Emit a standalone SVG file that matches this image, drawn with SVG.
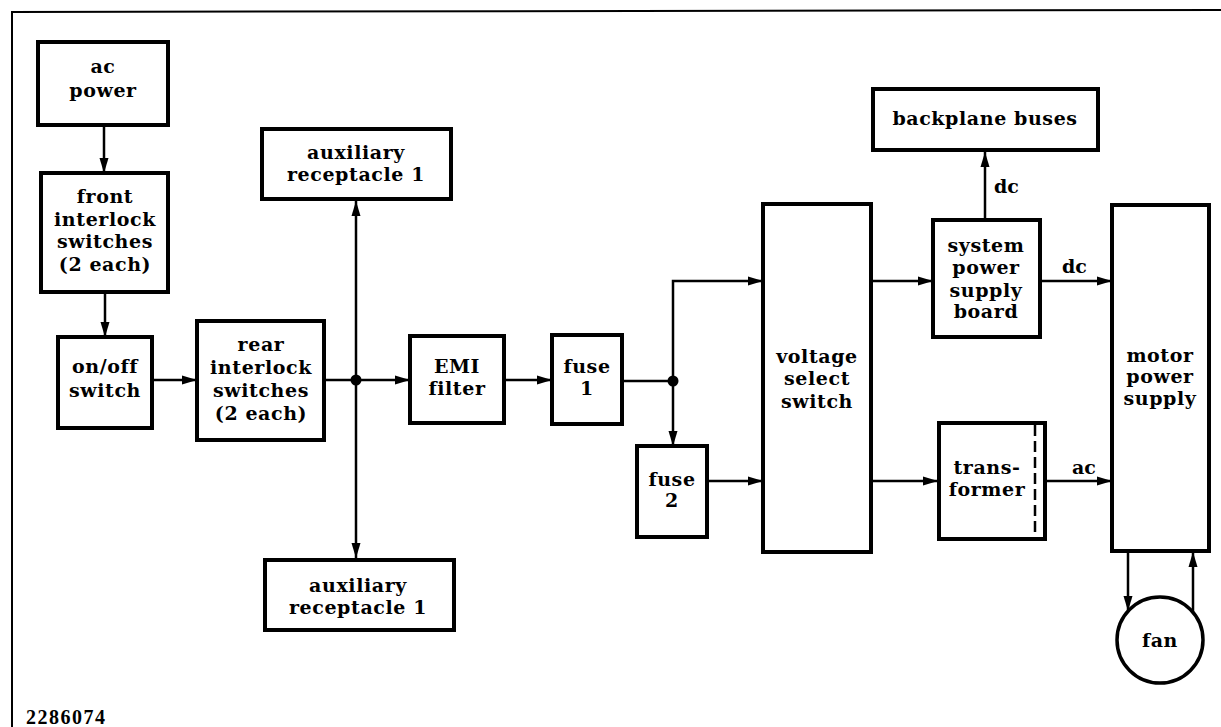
<svg xmlns="http://www.w3.org/2000/svg" width="1221" height="727" viewBox="0 0 1221 727">
<style>
.box{fill:#fff;stroke:#000;stroke-width:4}
.t{font-family:"DejaVu Serif","Liberation Serif",serif;font-weight:bold;font-size:19px;text-anchor:middle;fill:#000;letter-spacing:0.6px}
.c{fill:none;stroke:#000;stroke-width:2.5}
.lbl{font-family:"DejaVu Serif","Liberation Serif",serif;font-weight:bold;font-size:19px;fill:#000}
</style>
<defs>
<marker id="ah" markerUnits="userSpaceOnUse" markerWidth="16" markerHeight="10" refX="15" refY="5" orient="auto">
<path d="M0,0.5 L15,5 L0,9.5 z" fill="#000"/>
</marker>
</defs>
<rect width="1221" height="727" fill="#fff"/>
<g id="frame">
<path d="M12,727 L12,12 L1221,10" fill="none" stroke="#000" stroke-width="2"/>
<text x="26" y="724" style="font-family:'Liberation Serif',serif;font-weight:bold;font-size:20px;letter-spacing:1.5px">2286074</text>
</g>
<g id="connectors">
<path class="c" d="M104,125 L104,173" marker-end="url(#ah)"/>
<path class="c" d="M105,292 L105,337" marker-end="url(#ah)"/>
<path class="c" d="M147,380 L197,380" marker-end="url(#ah)"/>
<path class="c" d="M324,380 L410,380" marker-end="url(#ah)"/>
<path class="c" d="M356,380 L356,201" marker-end="url(#ah)"/>
<path class="c" d="M356,380 L356,558" marker-end="url(#ah)"/>
<circle cx="356" cy="380" r="5.5" fill="#000"/>
<path class="c" d="M504,380 L552,380" marker-end="url(#ah)"/>
<path class="c" d="M622,381 L673,381"/>
<path class="c" d="M673,381 L673,281 L763,281" marker-end="url(#ah)"/>
<path class="c" d="M673,381 L673,446" marker-end="url(#ah)"/>
<circle cx="673" cy="381" r="5.5" fill="#000"/>
<path class="c" d="M707,481 L763,481" marker-end="url(#ah)"/>
<path class="c" d="M871,281 L933,281" marker-end="url(#ah)"/>
<path class="c" d="M871,481 L938,481" marker-end="url(#ah)"/>
<path class="c" d="M985,220 L985,152" marker-end="url(#ah)"/>
<path class="c" d="M1040,281 L1112,281" marker-end="url(#ah)"/>
<path class="c" d="M1045,481 L1112,481" marker-end="url(#ah)"/>
<path class="c" d="M1128,551 L1128,611" marker-end="url(#ah)"/>
<path class="c" d="M1193,612 L1193,552" marker-end="url(#ah)"/>
<text class="lbl" x="994" y="193">dc</text>
<text class="lbl" x="1062" y="273">dc</text>
<text class="lbl" x="1072" y="474">ac</text>
</g>
<g id="ac-power">
<rect class="box" x="38" y="42" width="130" height="83"/>
<text class="t" x="103" y="73">ac</text>
<text class="t" x="103" y="97">power</text>
</g>
<g id="front-interlock">
<rect class="box" x="41" y="173" width="127" height="119"/>
<text class="t" x="105" y="203">front</text>
<text class="t" x="105" y="226">interlock</text>
<text class="t" x="105" y="248">switches</text>
<text class="t" x="105" y="271">(2 each)</text>
</g>
<g id="on-off-switch">
<rect class="box" x="58" y="337" width="94" height="91"/>
<text class="t" x="105" y="373">on/off</text>
<text class="t" x="105" y="397">switch</text>
</g>
<g id="rear-interlock">
<rect class="box" x="197" y="321" width="127" height="119"/>
<text class="t" x="261" y="351">rear</text>
<text class="t" x="261" y="374">interlock</text>
<text class="t" x="261" y="397">switches</text>
<text class="t" x="261" y="420">(2 each)</text>
</g>
<g id="aux-top">
<rect class="box" x="262" y="129" width="189" height="70"/>
<text class="t" x="356" y="159">auxiliary</text>
<text class="t" x="356" y="181">receptacle 1</text>
</g>
<g id="aux-bottom">
<rect class="box" x="265" y="560" width="189" height="70"/>
<text class="t" x="358" y="592">auxiliary</text>
<text class="t" x="358" y="614">receptacle 1</text>
</g>
<g id="emi-filter">
<rect class="box" x="410" y="336" width="94" height="87"/>
<text class="t" x="457" y="373">EMI</text>
<text class="t" x="457" y="395">filter</text>
</g>
<g id="fuse-1">
<rect class="box" x="552" y="335" width="70" height="89"/>
<text class="t" x="587" y="373">fuse</text>
<text class="t" x="587" y="395">1</text>
</g>
<g id="fuse-2">
<rect class="box" x="637" y="446" width="70" height="91"/>
<text class="t" x="672" y="486">fuse</text>
<text class="t" x="672" y="507">2</text>
</g>
<g id="voltage-select">
<rect class="box" x="763" y="204" width="108" height="348"/>
<text class="t" x="817" y="363">voltage</text>
<text class="t" x="817" y="385">select</text>
<text class="t" x="817" y="408">switch</text>
</g>
<g id="backplane-buses">
<rect class="box" x="873" y="89" width="225" height="61"/>
<text class="t" x="985" y="125">backplane buses</text>
</g>
<g id="system-power-supply">
<rect class="box" x="933" y="220" width="107" height="117"/>
<text class="t" x="986" y="252">system</text>
<text class="t" x="986" y="274">power</text>
<text class="t" x="986" y="297">supply</text>
<text class="t" x="986" y="318">board</text>
</g>
<g id="transformer">
<rect class="box" x="939" y="423" width="106" height="116"/>
<path d="M1035,425 L1035,537" stroke="#000" stroke-width="2.5" stroke-dasharray="11,5"/>
<text class="t" x="987" y="474">trans-</text>
<text class="t" x="987" y="496">former</text>
</g>
<g id="motor-power-supply">
<rect class="box" x="1112" y="205" width="97" height="346"/>
<text class="t" x="1160" y="362">motor</text>
<text class="t" x="1160" y="383">power</text>
<text class="t" x="1160" y="405">supply</text>
</g>
<g id="fan">
<circle cx="1160" cy="640" r="43" fill="#fff" stroke="#000" stroke-width="3.5"/>
<text class="t" x="1160" y="647">fan</text>
</g>
</svg>
